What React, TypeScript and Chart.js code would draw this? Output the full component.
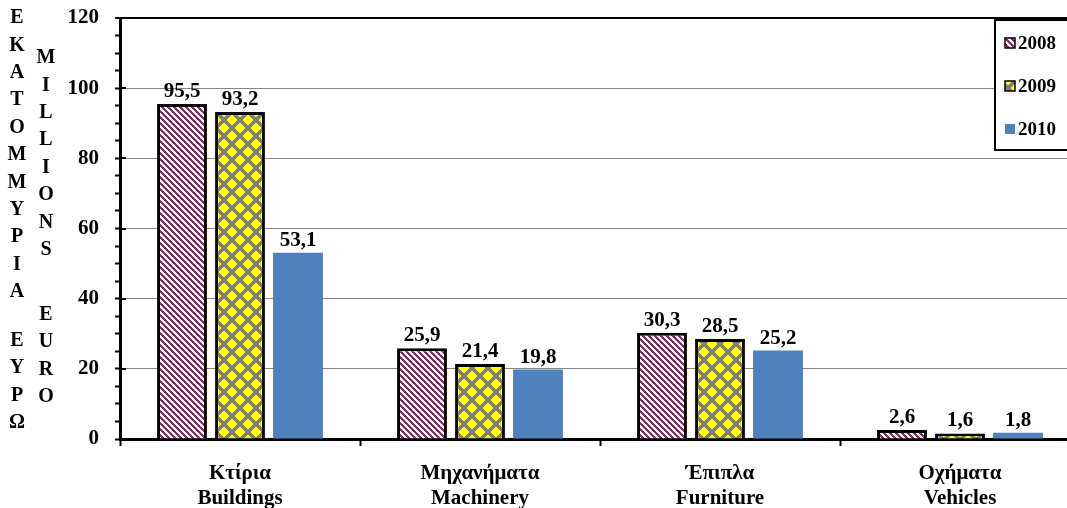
import React, { useEffect, useRef } from 'react';
import { Chart, registerables } from 'chart.js';
Chart.register(...registerables);

const categoriesGr = ['Κτίρια', 'Μηχανήματα', 'Έπιπλα', 'Οχήματα'];
const categoriesEn = ['Buildings', 'Machinery', 'Furniture', 'Vehicles'];
const seriesNames = ['2008', '2009', '2010'];
const values2008 = [95.5, 25.9, 30.3, 2.6];
const values2009 = [93.2, 21.4, 28.5, 1.6];
const values2010 = [53.1, 19.8, 25.2, 1.8];
const yTitleGr = 'ΕΚΑΤΟΜΜΥΡΙΑ ΕΥΡΩ';
const yTitleEn = 'MILLIONS EURO';
const yMin = 0;
const yMax = 120;
const yMajorStep = 20;
const yMinorStep = 5;

const FONT = "'Liberation Serif', 'Times New Roman', serif";
const PURPLE = '#8a2a6a';
const BLUE = '#4f81bd';
const GRAY = '#808080';
const YELLOW = '#ffff00';

function makeStripe(): CanvasPattern | string {
  const c = document.createElement('canvas');
  c.width = 6; c.height = 6;
  const x = c.getContext('2d');
  if (!x) return PURPLE;
  x.fillStyle = '#ffffff';
  x.fillRect(0, 0, 6, 6);
  x.fillStyle = PURPLE;
  for (let i = 0; i < 6; i++) for (let j = 0; j < 6; j++) {
    if ((((i - j) % 6) + 6) % 6 < 3) x.fillRect(i, j, 1, 1);
  }
  return x.createPattern(c, 'repeat') || PURPLE;
}

function makeDiamond(): CanvasPattern | string {
  const n = 16;
  const c = document.createElement('canvas');
  c.width = n; c.height = n;
  const x = c.getContext('2d');
  if (!x) return YELLOW;
  x.fillStyle = GRAY;
  x.fillRect(0, 0, n, n);
  x.fillStyle = YELLOW;
  const centers = [[8, 8], [0, 0], [16, 0], [0, 16], [16, 16]];
  for (let i = 0; i < n; i++) for (let j = 0; j < n; j++) {
    const px = i + 0.5, py = j + 0.5;
    for (const [cx, cy] of centers) {
      if (Math.abs(px - cx) + Math.abs(py - cy) <= 5.5) { x.fillRect(i, j, 1, 1); break; }
    }
  }
  return x.createPattern(c, 'repeat') || YELLOW;
}

const fmt = (v: number) => v.toFixed(1).replace('.', ',');

export default function App() {
  const ref = useRef<HTMLCanvasElement | null>(null);

  useEffect(() => {
    if (!ref.current) return;
    const stripe = makeStripe();
    const diamond = makeDiamond();
    const fills = [stripe, diamond, BLUE];

    const decor = {
      id: 'decor',
      afterDraw(chart: any) {
        const ctx: CanvasRenderingContext2D = chart.ctx;
        const { left } = chart.chartArea;
        const ys = chart.scales.y;
        ctx.save();
        // major tick marks crossing the axis
        ctx.strokeStyle = '#000';
        ctx.lineWidth = 2;
        for (let v = yMin; v <= yMax; v += yMajorStep) {
          const py = Math.round(ys.getPixelForValue(v));
          ctx.beginPath();
          ctx.moveTo(left, py);
          ctx.lineTo(left + 6, py);
          ctx.stroke();
        }
        // data labels
        ctx.fillStyle = '#000';
        ctx.font = `bold 21px ${FONT}`;
        ctx.textAlign = 'center';
        ctx.textBaseline = 'alphabetic';
        chart.data.datasets.forEach((ds: any, di: number) => {
          const meta = chart.getDatasetMeta(di);
          meta.data.forEach((bar: any, i: number) => {
            ctx.fillText(fmt(ds.data[i]), bar.x, bar.y - 7);
          });
        });
        // vertical y-axis titles
        ctx.font = `bold 20px ${FONT}`;
        ctx.textBaseline = 'middle';
        const drawCol = (s: string, x: number, y0: number, step: number, gap: number) => {
          let y = y0;
          for (const ch of s) {
            if (ch === ' ') { y += gap; continue; }
            ctx.fillText(ch, x, y);
            y += step;
          }
        };
        drawCol(yTitleGr, 17, 18, 27.4, 21.5);
        drawCol(yTitleEn, 46, 58, 27.4, 37.5);
        // legend
        const lx = 995, ly = 20, lw = 95, lh = 130;
        ctx.fillStyle = '#fff';
        ctx.fillRect(lx, ly, lw, lh);
        ctx.strokeStyle = '#000';
        ctx.lineWidth = 2;
        ctx.strokeRect(lx, ly, lw, lh);
        const rows = [43, 86, 129];
        ctx.font = `bold 19px ${FONT}`;
        ctx.textAlign = 'left';
        seriesNames.forEach((name, i) => {
          const cy = rows[i];
          ctx.fillStyle = fills[i] as any;
          ctx.fillRect(1005, cy - 5, 10, 10);
          if (i < 2) {
            ctx.lineWidth = 1.5;
            ctx.strokeStyle = '#000';
            ctx.strokeRect(1005, cy - 5, 10, 10);
          }
          ctx.fillStyle = '#000';
          ctx.fillText(name, 1018, cy + 1);
        });
        ctx.restore();
      },
    };

    const chart = new Chart(ref.current, {
      type: 'bar',
      data: {
        labels: categoriesGr.map((g, i) => [g, categoriesEn[i]]),
        datasets: [
          { label: seriesNames[0], data: values2008, backgroundColor: stripe as any, borderColor: '#000', borderWidth: 3 },
          { label: seriesNames[1], data: values2009, backgroundColor: diamond as any, borderColor: '#000', borderWidth: 3 },
          { label: seriesNames[2], data: values2010, backgroundColor: BLUE, borderWidth: 0 },
        ].map((d) => ({ ...d, categoryPercentage: 0.725, barPercentage: 0.86 })),
      },
      options: {
        animation: false,
        responsive: false,
        maintainAspectRatio: false,
        layout: { padding: { top: 18, right: 10, bottom: 0, left: 0 } },
        plugins: { legend: { display: false }, tooltip: { enabled: false } },
        scales: {
          x: {
            grid: { display: true, drawOnChartArea: false, drawTicks: true, tickLength: 7, tickColor: '#000', tickWidth: 2, offset: true },
            border: { display: true, color: '#000', width: 3 },
            ticks: { color: '#000', font: { family: FONT, size: 21, weight: 'bold', lineHeight: 1.15 }, padding: 16, maxRotation: 0, autoSkip: false },
            afterFit: (s: any) => { s.height = 69; s.paddingLeft = 0; s.paddingRight = 0; },
          },
          y: {
            min: yMin,
            max: yMax,
            ticks: {
              stepSize: yMinorStep,
              autoSkip: false,
              callback: (v: any) => (Number(v) % yMajorStep === 0 ? String(v) : ''),
              color: '#000',
              font: { family: FONT, size: 21, weight: 'bold' },
              padding: 16,
            },
            grid: {
              color: (c: any) => {
                const v = c.tick ? c.tick.value : -1;
                if (v === yMax) return '#000';
                if (v === yMin) return 'rgba(0,0,0,0)';
                return v % yMajorStep === 0 ? '#868686' : 'rgba(0,0,0,0)';
              },
              lineWidth: (c: any) => (c.tick && c.tick.value === yMax ? 2 : 1),
              drawTicks: true,
              tickLength: 5,
              tickColor: '#000',
              tickWidth: 2,
            },
            border: { display: true, color: '#000', width: 3 },
            afterFit: (s: any) => { s.width = 120; s.paddingTop = 0; s.paddingBottom = 0; },
          },
        },
      } as any,
      plugins: [decor],
    });
    return () => chart.destroy();
  }, []);

  return (
    <div style={{ position: 'fixed', left: 0, top: 0, width: 1090, height: 508, overflow: 'hidden', background: '#fff' }}>
      <canvas ref={ref} width={1090} height={508} style={{ display: 'block' }} />
    </div>
  );
}
